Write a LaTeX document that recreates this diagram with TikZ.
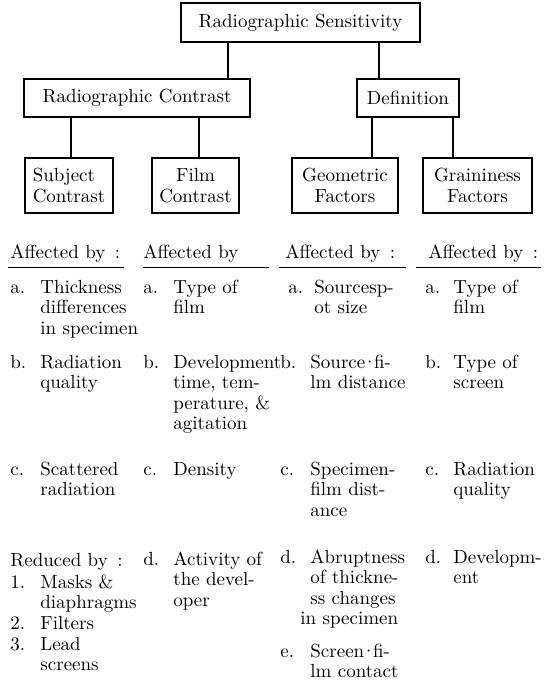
\documentclass[tikz,border=0pt]{standalone}
\usepackage{fontspec}
\usetikzlibrary{positioning,calc}

\begin{document}
\begin{tikzpicture}[x=0.5pt,y=-0.5pt,
    box/.style={draw, line width=0.6pt, inner sep=0pt, align=center, font=\fontsize{9.5}{10.5}\selectfont},
    link/.style={line width=0.6pt},
    head/.style={anchor=base west, inner sep=0pt, text depth=4.5pt, align=left, font=\fontsize{9.5}{10.25}\selectfont},
    item/.style={anchor=base west, inner sep=0pt, font=\fontsize{9.5}{10.25}\selectfont}]
            \useasboundingbox (0,0) rectangle (547,691);
            % Boxes
            \node[box, minimum width=119.5pt, minimum height=19.5pt] (sens) at (300.5,22.5) {Radiographic Sensitivity};
            \node[box, minimum width=113pt, minimum height=19pt] (rc) at (137,98) {Radiographic Contrast};
            \node[box, minimum width=51pt, minimum height=19pt] (def) at (408,98) {Definition};
            \node[box, minimum width=44pt, minimum height=27.5pt, align=left] (subj) at (69,185.5) {Subject\\Contrast};
            \node[box, minimum width=43.5pt, minimum height=27.5pt] (film) at (195.5,185.5) {Film\\Contrast};
            \node[box, minimum width=53pt, minimum height=27.5pt] (geo) at (345,185.5) {Geometric\\Factors};
            \node[box, minimum width=54.5pt, minimum height=27.5pt] (grain) at (477.5,185.5) {Graininess\\Factors};
            % Links
            \draw[link] (sens.south -| 228,0) -- (rc.north -| 228,0);
            \draw[link] (sens.south -| 379,0) -- (def.north -| 379,0);
            \draw[link] (rc.south -| 71,0) -- (subj.north -| 71,0);
            \draw[link] (rc.south -| 199,0) -- (film.north -| 199,0);
            \draw[link] (def.south -| 372,0) -- (geo.north -| 372,0);
            \draw[link] (def.south -| 453,0) -- (grain.north -| 453,0);
            % Headers
            \node[head, text width=57.5pt] (hSubj) at (8,258) {\hspace*{1pt}Affected by\enspace:};
            \node[head, text width=62.5pt] (hFilm) at (143,258) {Affected by};
            \node[head, text width=63pt] (hGeo) at (279,258) {\hspace*{3pt}Affected by\enspace:};
            \node[head, text width=62pt] (hGrain) at (416,258) {\hspace*{6pt}Affected by\enspace:};
            \draw[link] (hSubj.south west) -- (hSubj.south east);
            \draw[link] (hFilm.south west) -- (hFilm.south east);
            \draw[link] (hGeo.south west) -- (hGeo.south east);
            \draw[link] (hGrain.south west) -- (hGrain.south east);
            % Column 1: Subject Contrast
            \node[item] (subjA) at (10,293) {\begin{tabular}[t]{@{}p{15pt}@{}l@{}}a. & Thickness\\ & differences\\ & in specimen\end{tabular}};
            \node[item] (subjB) at (10,368) {\begin{tabular}[t]{@{}p{15pt}@{}l@{}}b. & Radiation\\ & quality\end{tabular}};
            \node[item] (subjC) at (10,475) {\begin{tabular}[t]{@{}p{15pt}@{}l@{}}c. & Scattered\\ & radiation\end{tabular}};
            \node[item] (subjR) at (10,566) {Reduced by\enspace:};
            \node[item] (subj1) at (10,588) {\begin{tabular}[t]{@{}p{15pt}@{}l@{}}1. & Masks \&\\ & diaphragms\end{tabular}};
            \node[item] (subj2) at (10,629) {\begin{tabular}[t]{@{}p{15pt}@{}l@{}}2. & Filters\end{tabular}};
            \node[item] (subj3) at (10,650) {\begin{tabular}[t]{@{}p{15pt}@{}l@{}}3. & Lead\\ & screens\end{tabular}};
            % Column 2: Film Contrast
            \node[item] (filmA) at (143,293) {\begin{tabular}[t]{@{}p{15pt}@{}l@{}}a. & Type of\\ & film\end{tabular}};
            \node[item] (filmB) at (143,368) {\begin{tabular}[t]{@{}p{15pt}@{}l@{}}b. & Development\\ & time, tem-\\ & perature, \&\\ & agitation\end{tabular}};
            \node[item] (filmC) at (143,475) {\begin{tabular}[t]{@{}p{15pt}@{}l@{}}c. & Density\end{tabular}};
            \node[item] (filmD) at (143,565) {\begin{tabular}[t]{@{}p{15pt}@{}l@{}}d. & Activity of\\ & the devel-\\ & oper\end{tabular}};
            % Column 3: Geometric Factors
            \node[item] (geoA) at (288,293) {\begin{tabular}[t]{@{}p{13pt}@{}l@{}}a. & Sourcesp-\\ & ot size\end{tabular}};
            \node[item] (geoB) at (280,368) {\begin{tabular}[t]{@{}p{15pt}@{}l@{}}b. & Source\kern-1.5pt·\kern-1.5pt fi-\\ & lm distance\end{tabular}};
            \node[item] (geoC) at (280,475) {\begin{tabular}[t]{@{}p{15pt}@{}l@{}}c. & Specimen-\\ & film dist-\\ & ance\end{tabular}};
            \node[item] (geoD) at (280,563) {\begin{tabular}[t]{@{}p{15pt}@{}l@{}}d. & Abruptness\\ & of thickne-\\ & ss changes\\ & \hspace*{-5pt}in specimen\end{tabular}};
            \node[item] (geoE) at (280,657) {\begin{tabular}[t]{@{}p{15pt}@{}l@{}}e. & Screen\kern-1.5pt·\kern-1.5pt fi-\\ & lm contact\end{tabular}};
            % Column 4: Graininess Factors
            \node[item] (grainA) at (425,293) {\begin{tabular}[t]{@{}p{14pt}@{}l@{}}a. & Type of\\ & film\end{tabular}};
            \node[item] (grainB) at (425,368) {\begin{tabular}[t]{@{}p{14pt}@{}l@{}}b. & Type of\\ & screen\end{tabular}};
            \node[item] (grainC) at (425,475) {\begin{tabular}[t]{@{}p{14pt}@{}l@{}}c. & Radiation\\ & quality\end{tabular}};
            \node[item] (grainD) at (425,563) {\begin{tabular}[t]{@{}p{14pt}@{}l@{}}d. & Developm-\\ & ent\end{tabular}};
\end{tikzpicture}
\end{document}
